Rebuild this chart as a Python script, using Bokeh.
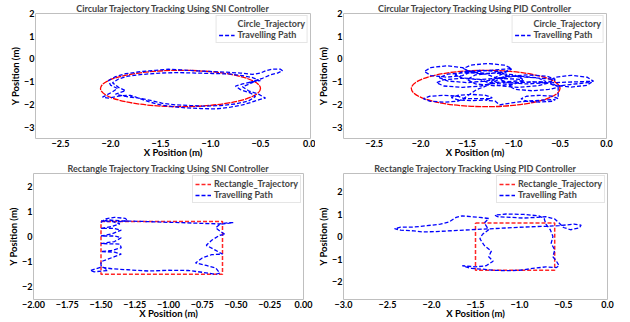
from bokeh.plotting import figure
from bokeh.models import FixedTicker, Range1d
from bokeh.layouts import column, row
from bokeh.embed import file_html
from bokeh.resources import INLINE

# ---------------- data ----------------
circle_center = (-1.3, -1.3)
circle_diameter = 1.6
rect_x = [-1.5, -0.6, -0.6, -1.5, -1.5]
rect_y = [0.6, 0.6, -1.5, -1.5, 0.6]

sni_circle_path = [
    (-0.62, -1.05), (-0.55, -0.95), (-0.48, -0.85), (-0.40, -0.70), (-0.33, -0.62),
    (-0.28, -0.52), (-0.30, -0.45), (-0.38, -0.45), (-0.45, -0.52), (-0.50, -0.62),
    (-0.58, -0.68), (-0.70, -0.62), (-0.85, -0.58), (-1.00, -0.55), (-1.15, -0.52),
    (-1.30, -0.48), (-1.42, -0.45), (-1.55, -0.50), (-1.70, -0.56), (-1.85, -0.65),
    (-1.95, -0.78), (-2.02, -0.95), (-2.00, -1.15), (-1.93, -1.30), (-1.98, -1.45),
    (-2.08, -1.68), (-2.02, -1.72), (-1.90, -1.62), (-1.80, -1.60), (-1.72, -1.72),
    (-1.62, -1.88), (-1.50, -2.02), (-1.38, -2.10), (-1.25, -2.15), (-1.10, -2.18),
    (-0.95, -2.20), (-0.80, -2.12), (-0.68, -2.02), (-0.60, -1.92), (-0.52, -1.80),
    (-0.45, -1.72), (-0.52, -1.55), (-0.62, -1.40), (-0.68, -1.22), (-0.60, -1.08),
    (-0.52, -0.92), (-0.58, -0.82), (-0.70, -0.72), (-0.82, -0.66), (-0.98, -0.64),
    (-1.15, -0.62), (-1.32, -0.60), (-1.50, -0.62), (-1.68, -0.68), (-1.82, -0.75),
    (-1.92, -0.88), (-1.98, -1.05), (-1.92, -1.25), (-1.85, -1.40), (-1.95, -1.55),
    (-1.85, -1.65), (-1.72, -1.72), (-1.60, -1.82), (-1.48, -1.95), (-1.35, -2.02),
    (-1.20, -2.05), (-1.05, -2.08), (-0.90, -2.05), (-0.75, -1.98), (-0.62, -1.85),
    (-0.55, -1.65), (-0.60, -1.50), (-0.70, -1.35), (-0.75, -1.20), (-0.68, -1.10),
    (-0.58, -1.00), (-0.50, -0.95),
]

pid_circle_path = [
    (-1.48, -0.55), (-1.55, -0.38), (-1.72, -0.30), (-1.89, -0.38), (-1.96, -0.55),
    (-1.89, -0.73), (-1.72, -0.80), (-1.55, -0.73), (-1.46, -0.58),
    (-1.02, -0.42), (-1.10, -0.27), (-1.28, -0.20), (-1.46, -0.27), (-1.54, -0.42),
    (-1.46, -0.57), (-1.28, -0.64), (-1.10, -0.57), (-1.02, -0.45),
    (-1.20, -0.82), (-1.29, -0.67), (-1.50, -0.60), (-1.71, -0.67), (-1.80, -0.82),
    (-1.71, -0.97), (-1.50, -1.04), (-1.29, -0.97), (-1.18, -0.85),
    (-0.90, -0.90), (-0.99, -0.70), (-1.20, -0.62), (-1.41, -0.70), (-1.50, -0.90),
    (-1.41, -1.10), (-1.20, -1.18), (-0.99, -1.10), (-0.88, -0.95),
    (-1.27, -1.05), (-1.35, -0.91), (-1.55, -0.85), (-1.75, -0.91), (-1.83, -1.05),
    (-1.75, -1.19), (-1.55, -1.25), (-1.35, -1.19), (-1.25, -1.08),
    (-0.65, -1.00), (-0.74, -0.83), (-0.95, -0.75), (-1.16, -0.83), (-1.25, -1.00),
    (-1.16, -1.18), (-0.95, -1.25), (-0.74, -1.18), (-0.62, -1.05),
    (-0.14, -0.98), (-0.21, -0.80), (-0.38, -0.72), (-0.55, -0.80), (-0.62, -0.98),
    (-0.55, -1.16), (-0.38, -1.24), (-0.21, -1.16), (-0.16, -1.02),
    (-0.55, -1.20), (-0.62, -1.06), (-0.80, -1.00), (-0.98, -1.06), (-1.05, -1.20),
    (-0.98, -1.34), (-0.80, -1.40), (-0.62, -1.34), (-0.52, -1.25),
    (-0.52, -1.75), (-0.58, -1.64), (-0.72, -1.60), (-0.86, -1.64), (-0.92, -1.75),
    (-0.86, -1.86), (-0.72, -1.90), (-0.58, -1.86), (-0.55, -1.78),
    (-0.85, -1.85), (-1.00, -1.92), (-1.15, -2.02), (-1.20, -1.85), (-1.30, -1.82),
    (-1.23, -1.70), (-1.30, -1.60), (-1.45, -1.56), (-1.60, -1.60), (-1.67, -1.70),
    (-1.60, -1.80), (-1.45, -1.84), (-1.30, -1.80), (-1.25, -1.74),
    (-1.53, -1.75), (-1.60, -1.64), (-1.75, -1.60), (-1.90, -1.64), (-1.97, -1.75),
    (-1.90, -1.86), (-1.75, -1.90), (-1.60, -1.86), (-1.55, -1.78),
    (-1.40, -1.35), (-1.30, -1.20),
    (-1.07, -0.70), (-1.15, -0.56), (-1.35, -0.50), (-1.55, -0.56), (-1.63, -0.70),
    (-1.55, -0.84), (-1.35, -0.90), (-1.15, -0.84), (-1.05, -0.74),
    (-0.55, -0.90), (-0.64, -0.76), (-0.85, -0.70), (-1.06, -0.76), (-1.15, -0.90),
    (-1.06, -1.04), (-0.85, -1.10), (-0.64, -1.04), (-0.55, -0.94),
]

sni_rect_path = [
    (-1.50, 0.55), (-1.47, 0.70), (-1.40, 0.76), (-1.32, 0.72), (-1.30, 0.62),
    (-1.38, 0.58), (-1.48, 0.60), (-1.45, 0.66), (-1.35, 0.62), (-1.20, 0.60),
    (-1.05, 0.57), (-0.90, 0.55), (-0.75, 0.52), (-0.62, 0.50), (-0.55, 0.55),
    (-0.52, 0.55), (-0.62, 0.48), (-0.65, 0.35), (-0.62, 0.22), (-0.58, 0.08),
    (-0.62, 0.05), (-0.68, -0.15), (-0.72, -0.35), (-0.65, -0.55), (-0.60, -0.70),
    (-0.68, -0.72), (-0.75, -0.85), (-0.80, -1.05), (-0.72, -1.15), (-0.65, -1.25),
    (-0.62, -1.45), (-0.65, -1.50), (-0.75, -1.42), (-0.85, -1.35), (-1.00, -1.34),
    (-1.15, -1.37), (-1.30, -1.32), (-1.42, -1.28), (-1.50, -1.22), (-1.58, -1.35),
    (-1.55, -1.40), (-1.45, -1.35), (-1.50, -1.15), (-1.50, -1.00), (-1.45, -0.90),
    (-1.40, -0.80), (-1.35, -0.70), (-1.40, -0.62), (-1.50, -0.60), (-1.42, -0.55),
    (-1.35, -0.45), (-1.36, -0.30), (-1.50, -0.28), (-1.40, -0.20), (-1.35, -0.05),
    (-1.40, 0.02), (-1.50, 0.02), (-1.42, 0.10), (-1.35, 0.25), (-1.40, 0.32),
    (-1.50, 0.32), (-1.42, 0.40), (-1.36, 0.50), (-1.42, 0.60), (-1.50, 0.62),
]

pid_rect_path = [
    (-1.35, 0.80), (-1.45, 0.85), (-1.55, 0.88), (-1.65, 0.92), (-1.72, 0.85),
    (-1.80, 0.65), (-1.90, 0.55), (-2.05, 0.48), (-2.20, 0.42), (-2.35, 0.42),
    (-2.42, 0.35), (-2.35, 0.28), (-2.20, 0.25), (-2.10, 0.20), (-1.95, 0.22),
    (-1.75, 0.26), (-1.55, 0.30), (-1.35, 0.34), (-1.15, 0.38), (-0.95, 0.42),
    (-0.75, 0.45), (-0.55, 0.48), (-0.38, 0.55), (-0.30, 0.50), (-0.32, 0.38),
    (-0.42, 0.30), (-0.50, 0.40), (-0.55, 0.60), (-0.60, 0.78), (-0.70, 0.88),
    (-0.80, 0.85), (-0.95, 0.82), (-1.10, 0.85), (-1.25, 0.88), (-1.28, 0.95),
    (-1.15, 1.00), (-0.95, 0.98), (-0.78, 0.92), (-0.72, 0.80), (-0.70, 0.55),
    (-0.65, 0.30), (-0.62, 0.00), (-0.64, -0.30), (-0.60, -0.60), (-0.62, -0.90),
    (-0.58, -1.10), (-0.55, -1.30), (-0.58, -1.38), (-0.70, -1.35), (-0.85, -1.42),
    (-1.00, -1.50), (-1.15, -1.52), (-1.30, -1.50), (-1.42, -1.45), (-1.55, -1.42),
    (-1.65, -1.30), (-1.50, -1.35), (-1.38, -1.30), (-1.30, -1.10), (-1.35, -0.90),
    (-1.32, -0.65), (-1.40, -0.40), (-1.45, -0.10), (-1.42, 0.10), (-1.35, 0.30),
    (-1.40, 0.60), (-1.35, 0.80),
]

circ_xticks = [-2.5, -2.0, -1.5, -1.0, -0.5, 0.0]
circ_xlabels = ["\u22122.5", "\u22122.0", "\u22121.5", "\u22121.0", "\u22120.5", "0.0"]
circ_yticks = [2, 1, 0, -1, -2, -3]
circ_ylabels = ["2", "1", "0", "\u22121", "\u22122", "\u22123"]
sni_rect_xticks = [-2.0, -1.75, -1.5, -1.25, -1.0, -0.75, -0.5, -0.25, 0.0]
sni_rect_xlabels = ["\u22122.00", "\u22121.75", "\u22121.50", "\u22121.25", "\u22121.00",
                    "\u22120.75", "\u22120.50", "\u22120.25", "0.00"]
pid_rect_xticks = [-3.0, -2.5, -2.0, -1.5, -1.0, -0.5, 0.0]
pid_rect_xlabels = ["\u22123.0", "\u22122.5", "\u22122.0", "\u22121.5", "\u22121.0", "\u22120.5", "0.0"]
rect_yticks = [2, 1, 0, -1, -2]
rect_ylabels = ["2", "1", "0", "\u22121", "\u22122"]

FONT = "Lato"
RED = "#ff0000"
BLUE = "#0000ff"


def make_fig(title, width, height, borders, xr, yr, xt, xl, yt, yl):
    left, right, top, bottom = borders
    p = figure(width=width, height=height, x_range=Range1d(*xr), y_range=Range1d(*yr),
               output_backend="svg", toolbar_location=None,
               min_border_left=left, min_border_right=right,
               min_border_top=top, min_border_bottom=bottom)
    p.title.text = title
    p.title.align = "center"
    p.title.text_font = FONT
    p.title.text_font_size = "9px"
    p.title.text_font_style = "bold"
    p.title.standoff = 0
    p.title.offset = 0
    p.grid.visible = False
    p.outline_line_color = "#bfbfbf"
    p.outline_line_width = 1
    p.xaxis.ticker = FixedTicker(ticks=xt)
    p.xaxis.major_label_overrides = dict(zip(xt, xl))
    p.yaxis.ticker = FixedTicker(ticks=yt)
    p.yaxis.major_label_overrides = dict(zip(yt, yl))
    p.xaxis.axis_label = "X Position (m)"
    p.yaxis.axis_label = "Y Position (m)"
    for ax in (p.xaxis[0], p.yaxis[0]):
        ax.axis_line_color = None
        ax.major_tick_line_color = None
        ax.minor_tick_line_color = None
        ax.major_tick_out = 0
        ax.major_tick_in = 0
        ax.major_label_standoff = 1
        ax.axis_label_standoff = 0
        ax.major_label_text_font = FONT
        ax.major_label_text_font_style = "bold"
        ax.major_label_text_font_size = "9px"
        ax.axis_label_text_font = FONT
        ax.axis_label_text_font_style = "bold"
        ax.axis_label_text_font_size = "9.5px"
        ax.major_label_text_color = "#000000"
        ax.axis_label_text_color = "#000000"
    p.xaxis[0].axis_label_standoff = -3
    return p


def style_legend(p):
    lg = p.legend[0]
    lg.location = "top_right"
    lg.label_text_font = FONT
    lg.label_text_font_style = "bold"
    lg.label_text_font_size = "9px"
    lg.label_height = 8
    lg.glyph_height = 8
    lg.glyph_width = 16
    lg.label_standoff = 3
    lg.spacing = 0
    lg.padding = 2
    lg.margin = 2
    lg.border_line_color = "#cccccc"
    lg.background_fill_alpha = 0.9


def xs(path):
    return [pt[0] for pt in path]


def ys(path):
    return [pt[1] for pt in path]


p1 = make_fig("Circular Trajectory Tracking Using SNI Controller", 315, 160, (35, 5, 10, 18),
              (-2.75, 0.0), (-3.5, 2.0), circ_xticks, circ_xlabels, circ_yticks, circ_ylabels)
p2 = make_fig("Circular Trajectory Tracking Using PID Controller", 315, 160, (22, 24, 10, 18),
              (-2.83, 0.0), (-3.5, 2.0), circ_xticks, circ_xlabels, circ_yticks, circ_ylabels)
p3 = make_fig("Rectangle Trajectory Tracking Using SNI Controller", 315, 161, (33, 12, 7, 20),
              (-2.0, 0.0), (-2.5, 2.5), sni_rect_xticks, sni_rect_xlabels, rect_yticks, rect_ylabels)
p4 = make_fig("Rectangle Trajectory Tracking Using PID Controller", 315, 161, (21, 23, 7, 20),
              (-3.0, 0.0), (-2.8, 2.8), pid_rect_xticks, pid_rect_xlabels, rect_yticks, rect_ylabels)

for p, path in ((p1, sni_circle_path), (p2, pid_circle_path)):
    p.ellipse(x=[circle_center[0]], y=[circle_center[1]], width=[circle_diameter],
              height=[circle_diameter], fill_color=None, line_color=RED, line_width=1.3,
              line_dash="6 1")
    p.line([], [], line_color=RED, line_width=1.5, line_dash="4 2", legend_label="Circle_Trajectory")
    p.line(xs(path), ys(path), line_color=BLUE, line_width=1.3, line_dash="4 2",
           legend_label="Travelling Path")
    style_legend(p)

for p, path in ((p3, sni_rect_path), (p4, pid_rect_path)):
    p.line(rect_x, rect_y, line_color=RED, line_width=1.5, line_dash="4 2", line_alpha=0.85,
           legend_label="Rectangle_Trajectory")
    p.line(xs(path), ys(path), line_color=BLUE, line_width=1.3, line_dash="4 2",
           legend_label="Travelling Path")
    style_legend(p)

layout = column(row(p1, p2), row(p3, p4))
open("out.html", "w").write(file_html(layout, INLINE))
